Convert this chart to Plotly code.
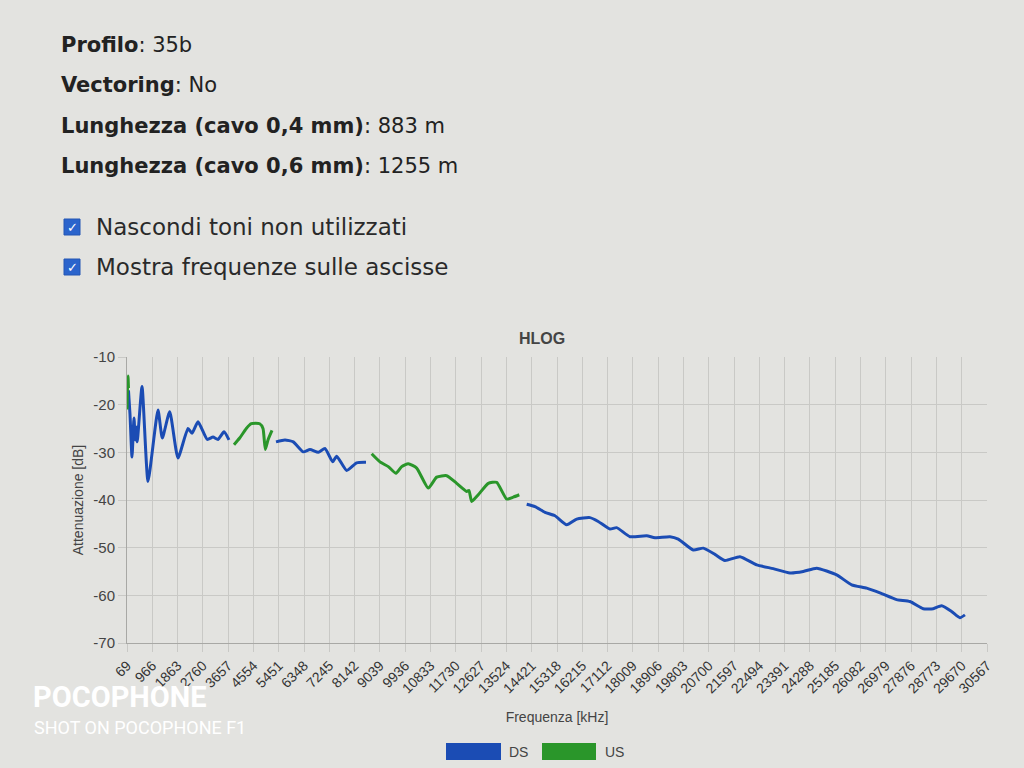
import plotly.graph_objects as go

# ---- data (kHz, dB) ----
tick_freqs = [69, 966, 1863, 2760, 3657, 4554, 5451, 6348, 7245, 8142, 9039, 9936,
              10833, 11730, 12627, 13524, 14421, 15318, 16215, 17112, 18009, 18906,
              19803, 20700, 21597, 22494, 23391, 24288, 25185, 26082, 26979, 27876,
              28773, 29670, 30567]
tick_labels = [str(v) for v in tick_freqs]
y_ticks = [-10, -20, -30, -40, -50, -60, -70]
y_tick_labels = [str(v) for v in y_ticks]

us0_f = [69, 86, 104, 121]
us0_db = [-21.0, -16.5, -14.0, -16.5]

ds1_f = [121, 175, 246, 317, 363, 413, 434, 602, 814, 1168, 1321, 1583, 1877, 2232,
         2374, 2587, 2916, 3119, 3296, 3509, 3686]
ds1_db = [-17.0, -22.0, -31.0, -22.8, -27.4, -24.7, -27.8, -16.2, -36.1, -21.1, -27.0,
          -21.5, -31.2, -25.0, -26.0, -23.6, -27.3, -26.8, -27.3, -25.7, -27.4]

us1_f = [3863, 4065, 4300, 4477, 4775, 4892, 4973, 5069, 5211]
us1_db = [-28.4, -27.0, -25.0, -24.0, -24.0, -25.0, -29.4, -27.4, -25.4]

ds2_f = [5353, 5672, 5966, 6321, 6558, 6853, 7090, 7363, 7505, 7860, 8214, 8544]
ds2_db = [-27.8, -27.4, -27.8, -29.9, -29.4, -30.0, -29.2, -32.0, -30.8, -33.8, -32.2, -32.1]

us2_f = [8746, 9040, 9335, 9608, 9810, 10044, 10342, 10753, 11051, 11406, 11760,
         12115, 12197, 12292, 12526, 12881, 13179, 13533, 13767, 13980]
us2_db = [-30.3, -32.0, -33.0, -34.4, -33.0, -32.4, -33.3, -37.5, -35.2, -34.9, -36.5,
          -38.2, -38.0, -40.3, -38.9, -36.5, -36.3, -39.8, -39.4, -38.9]

ds3_f = [14243, 14537, 14892, 15246, 15661, 16016, 16487, 16781, 17196, 17434, 17906,
         18498, 18792, 19324, 19619, 20151, 20506, 20919, 21274, 21806, 22398, 22987,
         23579, 24051, 24526, 25235, 25767, 26299, 26771, 27361, 27835, 28306, 28661,
         28958, 29313, 29607, 29785]
ds3_db = [-40.9, -41.4, -42.6, -43.3, -45.2, -44.0, -43.7, -44.5, -46.1, -45.8, -47.7,
          -47.5, -47.9, -47.7, -48.2, -50.5, -50.1, -51.4, -52.7, -51.9, -53.6, -54.4,
          -55.3, -55.0, -54.3, -55.7, -57.8, -58.5, -59.5, -60.9, -61.3, -62.8, -62.8,
          -62.2, -63.4, -64.7, -64.1]

series_names = ["DS", "US"]
ds_color = "#1b4cb4"
us_color = "#2a962a"

ds_x = ds1_f + [None] + ds2_f + [None] + ds3_f
ds_y = ds1_db + [None] + ds2_db + [None] + ds3_db
us_x = us0_f + [None] + us1_f + [None] + us2_f
us_y = us0_db + [None] + us1_db + [None] + us2_db

# ---- layout geometry (pixels) ----
W, H = 1024, 768
L, R, T, B = 127, 987, 357, 643
BG = "#e3e3e0"


def px(x, y):
    return (x - L) / (R - L), (B - y) / (B - T)


fig = go.Figure()
fig.add_trace(go.Scatter(x=ds_x, y=ds_y, mode="lines", name=series_names[0],
                         line=dict(color=ds_color, width=3, shape="spline", smoothing=0.5),
                         connectgaps=False, showlegend=False))
fig.add_trace(go.Scatter(x=us_x, y=us_y, mode="lines", name=series_names[1],
                         line=dict(color=us_color, width=3, shape="spline", smoothing=0.5),
                         connectgaps=False, showlegend=False))

grid = "#c9c9c6"
fig.update_xaxes(range=[tick_freqs[0], tick_freqs[-1]], tickmode="array",
                 tickvals=tick_freqs, ticktext=tick_labels, tickangle=-45,
                 showgrid=True, gridcolor=grid, gridwidth=1, zeroline=False,
                 showline=True, linecolor="#a8a8a5", linewidth=1,
                 ticks="outside", ticklen=8, tickcolor=grid,
                 tickfont=dict(family="Liberation Sans, Arial", size=14, color="#333"),
                 title=dict(text="Frequenza [kHz]", standoff=16,
                            font=dict(family="Liberation Sans, Arial", size=14, color="#444")))
fig.update_yaxes(range=[-70, -10], tickmode="array", tickvals=y_ticks, ticktext=y_tick_labels,
                 showgrid=True, gridcolor=grid, gridwidth=1,
                 zeroline=False, showline=True, linecolor="#a8a8a5", linewidth=1,
                 ticks="outside", ticklen=8, tickcolor=grid,
                 tickfont=dict(family="Liberation Sans, Arial", size=15, color="#444"),
                 title=dict(text="Attenuazione [dB]", standoff=6,
                            font=dict(family="Liberation Sans, Arial", size=14, color="#444")))

anns = []
shapes = []

page_font = "DejaVu Sans, sans-serif"
lines_txt = [
    ("<b>Profilo</b>: 35b", 45),
    ("<b>Vectoring</b>: No", 85),
    ("<b>Lunghezza (cavo 0,4 mm)</b>: 883 m", 126),
    ("<b>Lunghezza (cavo 0,6 mm)</b>: 1255 m", 166),
]
for txt, yy in lines_txt:
    xx, yp = px(59, yy)
    anns.append(dict(text=txt, x=xx, y=yp, xref="paper", yref="paper", xanchor="left",
                     yanchor="middle", showarrow=False,
                     font=dict(family=page_font, size=21, color="#222")))

for txt, yy in [("Nascondi toni non utilizzati", 227), ("Mostra frequenze sulle ascisse", 267)]:
    xx, yp = px(94, yy)
    anns.append(dict(text=txt, x=xx, y=yp, xref="paper", yref="paper", xanchor="left",
                     yanchor="middle", showarrow=False,
                     font=dict(family=page_font, size=23, color="#2a2a2a")))
    x0, y0 = px(64, yy + 8)
    x1, y1 = px(80, yy - 8)
    shapes.append(dict(type="rect", xref="paper", yref="paper", x0=x0, y0=y0, x1=x1, y1=y1,
                       fillcolor="#2b64cc", line=dict(color="#2456b4", width=1)))
    cx, cy = px(72, yy + 0.5)
    anns.append(dict(text="✓", x=cx, y=cy, xref="paper", yref="paper", xanchor="center",
                     yanchor="middle", showarrow=False,
                     font=dict(family="DejaVu Sans", size=13, color="white")))

# chart title
tx, ty = px(542, 338)
anns.append(dict(text="<b>HLOG</b>", x=tx, y=ty, xref="paper", yref="paper", xanchor="center",
                 yanchor="middle", showarrow=False,
                 font=dict(family="Liberation Sans, Arial", size=16, color="#444")))

# legend (manual)
for (x0p, x1p, col, lab, lx) in [(446, 501, ds_color, series_names[0], 507),
                                  (542, 596, us_color, series_names[1], 603)]:
    a0, b0 = px(x0p, 760)
    a1, b1 = px(x1p, 743)
    shapes.append(dict(type="rect", xref="paper", yref="paper", x0=a0, y0=b0, x1=a1, y1=b1,
                       fillcolor=col, line=dict(width=0)))
    lxp, lyp = px(lx, 752)
    anns.append(dict(text=lab, x=lxp, y=lyp, xref="paper", yref="paper", xanchor="left",
                     yanchor="middle", showarrow=False,
                     font=dict(family="Liberation Sans, Arial", size=14, color="#444")))

# camera watermark
wx, wy = px(31, 697)
anns.append(dict(text="<b>POCOPHONE</b>", x=wx, y=wy, xref="paper", yref="paper",
                 xanchor="left", yanchor="middle", showarrow=False,
                 font=dict(family="Roboto, sans-serif", size=29, color="white")))
wx, wy = px(32, 727)
anns.append(dict(text="SHOT ON POCOPHONE F1", x=wx, y=wy, xref="paper", yref="paper",
                 xanchor="left", yanchor="middle", showarrow=False,
                 font=dict(family="Roboto, sans-serif", size=18, color="white")))

fig.update_layout(width=W, height=H, margin=dict(l=L, r=W - R, t=T, b=H - B),
                  paper_bgcolor=BG, plot_bgcolor=BG,
                  annotations=anns, shapes=shapes, showlegend=False)

fig.write_html("out.html", config={"displayModeBar": False},
               post_script="document.body.style.margin='0';"
                           "document.body.style.overflow='hidden';"
                           "document.body.style.background='" + BG + "';")
